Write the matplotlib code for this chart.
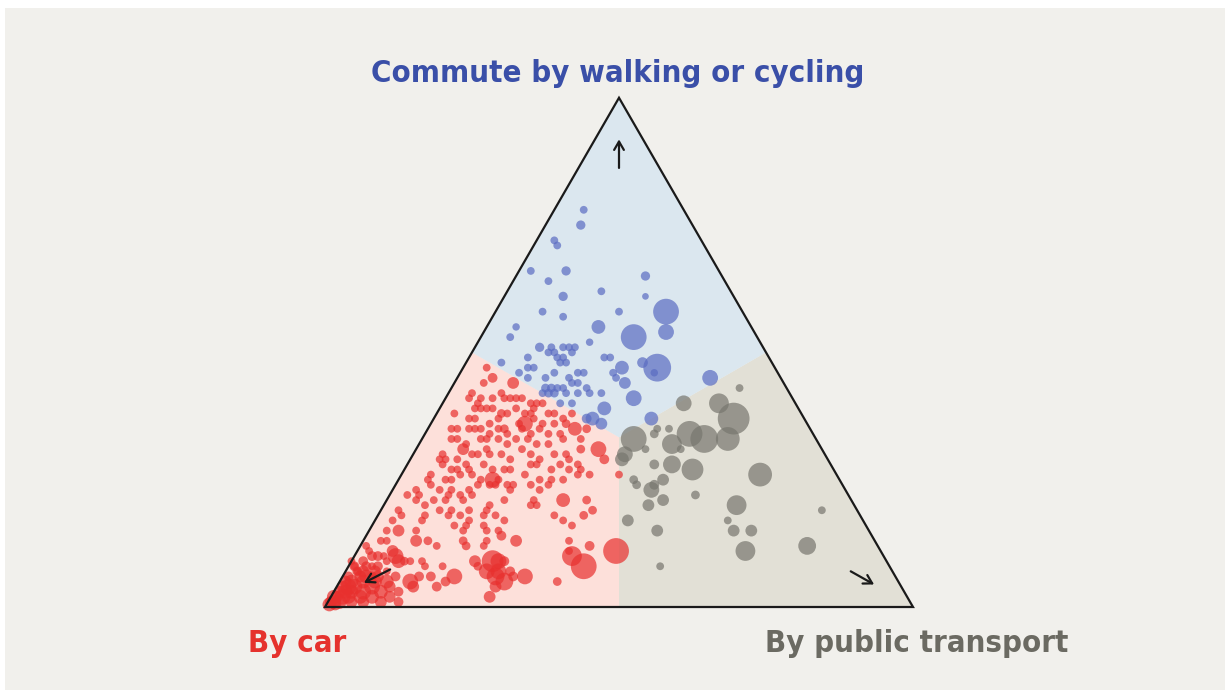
"""
Ternary scatter: how people commute (walk/cycle, car, public transport)
"""

import numpy as np
import matplotlib
matplotlib.use("Agg")
import matplotlib.pyplot as plt
from matplotlib.patches import Polygon, Rectangle
from matplotlib import font_manager

# each point: (walk/cycle %, public transport %, population weight); car = 100 - walk - transit
walk_points = [
    (78, 5, 9), (75, 6, 14), (72, 3, 9), (71, 4, 9), (66, 2, 9), (66, 8, 14), (64, 6, 9),
    (65, 22, 14), (62, 16, 9), (61, 10, 14), (61, 24, 6), (58, 29, 144), (58, 8, 9),
    (57, 12, 9), (58, 21, 9), (55, 5, 8), (53, 5, 9), (55, 19, 36), (53, 26, 144),
    (54, 31, 49), (52, 19, 8), (51, 11, 14), (51, 13, 9), (50, 14, 9), (51, 15, 9),
    (51, 16, 9), (51, 17, 9), (49, 15, 9), (49, 16, 9), (50, 17, 9), (48, 17, 9),
    (50, 13, 9), (48, 16, 9), (49, 10, 9), (48, 6, 9), (49, 23, 9), (49, 24, 9),
    (47, 27, 36), (48, 30, 20), (47, 33, 169), (46, 33, 8), (45, 43, 49), (47, 11, 9),
    (47, 12, 9), (46, 10, 9), (45, 15, 9), (46, 16, 9), (46, 20, 9), (46, 21, 9),
    (46, 26, 9), (45, 27, 9), (44, 29, 25), (45, 12, 9), (45, 19, 9), (44, 20, 9),
    (44, 21, 9), (42, 22, 9), (43, 16, 12), (42, 17, 12), (43, 17, 12), (42, 18, 12),
    (42, 16, 9), (43, 18, 9), (43, 19, 9), (42, 20, 9), (43, 23, 9), (42, 24, 9),
    (42, 26, 9), (41, 32, 49), (40, 22, 9), (40, 20, 9), (39, 28, 36), (37, 27, 36),
    (37, 26, 16), (36, 29, 25),
]

transit_points = [
    (43, 49, 9), (40, 41, 49), (40, 47, 81), (37, 51, 225), (37, 37, 36), (33, 36, 144),
    (34, 39, 12), (35, 39, 9), (35, 41, 9), (32, 43, 81), (34, 45, 144), (33, 48, 169),
    (33, 52, 121), (31, 45, 9), (30, 36, 49), (29, 36, 36), (31, 39, 9), (28, 45, 64),
    (28, 42, 16), (27, 49, 100), (26, 61, 121), (25, 45, 25), (24, 44, 16), (25, 40, 12),
    (24, 41, 12), (26, 37, 9), (23, 44, 49), (22, 52, 12), (20, 45, 25), (21, 47, 25),
    (20, 60, 81), (19, 75, 9), (17, 43, 25), (17, 60, 9), (15, 62, 25), (15, 65, 25),
    (15, 49, 25), (11, 66, 81), (12, 76, 64), (8, 53, 9),
]

car_points = [
    (47, 4, 9), (45, 6, 16), (44, 10, 25), (44, 5, 9), (42, 4, 9),
    (41, 4, 9), (40, 6, 9), (41, 6, 9), (41, 8, 9), (42, 9, 9), (41, 10, 9), (41, 11, 9),
    (41, 12, 9), (41, 13, 9), (40, 15, 9), (40, 16, 9), (40, 17, 9),
    (39, 6, 9), (39, 7, 9), (39, 8, 9), (39, 9, 9), (38, 11, 12), (38, 12, 9), (39, 13, 9),
    (38, 15, 9), (38, 16, 9), (39, 16, 9), (38, 19, 9), (38, 20, 9), (37, 22, 9), (38, 23, 9),
    (38, 3, 9), (37, 6, 9), (37, 7, 9), (36, 10, 9), (37, 11, 9), (35, 13, 12), (36, 15, 9),
    (36, 16, 49), (37, 17, 9), (36, 19, 9), (36, 21, 9), (36, 23, 12), (35, 25, 36),
    (35, 4, 9), (35, 5, 9), (35, 7, 9), (35, 8, 9), (35, 9, 9), (34, 11, 9), (35, 12, 9),
    (34, 14, 9), (35, 16, 9), (34, 18, 9), (35, 19, 9), (34, 21, 9), (34, 23, 9), (35, 27, 12),
    (33, 5, 9), (33, 6, 9), (32, 8, 9), (33, 10, 9), (33, 11, 9), (33, 13, 9), (32, 15, 9),
    (33, 16, 9), (33, 18, 9), (32, 20, 9), (32, 22, 9), (33, 24, 9), (33, 27, 9), (31, 28, 12),
    (31, 31, 49),
    (30, 5, 9), (29, 6, 9), (29, 8, 9), (31, 8, 25), (30, 10, 9), (30, 11, 9), (31, 12, 9),
    (30, 13, 9), (30, 15, 9), (29, 17, 9), (31, 18, 9), (30, 20, 9), (29, 22, 9), (30, 24, 9),
    (30, 26, 9), (29, 27, 9), (28, 29, 9),
    (29, 5, 9), (28, 6, 9), (27, 8, 9), (27, 9, 9), (28, 10, 9), (27, 11, 9), (28, 13, 9),
    (27, 15, 9), (27, 17, 9), (27, 18, 9), (28, 21, 9), (28, 22, 9), (27, 25, 9), (28, 26, 9),
    (27, 28, 9), (27, 30, 9), (26, 32, 9), (29, 33, 16),
    (25, 5, 9), (26, 5, 9), (25, 8, 9), (25, 9, 9), (26, 10, 9), (26, 12, 9), (25, 14, 9),
    (25, 16, 49), (25, 17, 9), (24, 19, 9), (26, 21, 9), (25, 24, 9), (25, 26, 9), (25, 28, 9),
    (26, 30, 9),
    (23, 4, 9), (22, 5, 9), (24, 6, 9), (23, 8, 9), (22, 10, 9), (23, 10, 9), (22, 12, 9),
    (23, 13, 9), (24, 14, 9), (24, 16, 9), (24, 17, 9), (23, 20, 9), (24, 20, 9), (24, 23, 9),
    (23, 25, 9), (24, 26, 9),
    (22, 3, 9), (21, 5, 9), (20, 7, 9), (21, 8, 9), (21, 10, 9), (21, 13, 9), (22, 14, 9),
    (20, 18, 9), (21, 20, 9), (21, 25, 9), (20, 26, 9), (21, 30, 36), (21, 34, 12), (19, 36, 12),
    (19, 3, 9), (17, 3, 9), (18, 4, 9), (17, 8, 9), (18, 8, 9), (19, 10, 9), (18, 12, 9),
    (19, 12, 9), (18, 14, 9), (19, 15, 9), (17, 16, 9), (18, 18, 9), (19, 18, 9), (18, 20, 9),
    (17, 22, 9), (20, 25, 9), (18, 30, 9), (17, 32, 9), (16, 34, 9), (18, 35, 12),
    (15, 3, 9), (15, 5, 25), (15, 8, 9), (16, 14, 9), (15, 16, 9), (16, 16, 9), (16, 19, 9),
    (15, 20, 9), (15, 22, 9),
    (13, 3, 9), (13, 4, 9), (13, 9, 25), (13, 11, 12), (12, 13, 9), (13, 17, 12), (12, 18, 12),
    (12, 21, 9), (13, 21, 9), (14, 23, 16), (13, 26, 25), (13, 35, 9), (11, 36, 9),
    (12, 39, 16), (11, 44, 144), (10, 37, 81), (8, 40, 144),
    (12, 1, 9), (11, 2, 9), (10, 5, 9), (10, 7, 49), (9, 9, 12), (9, 10, 9), (9, 12, 9),
    (8, 13, 9), (8, 16, 9), (6, 19, 49), (9, 21, 25), (8, 22, 12), (9, 24, 100), (9, 25, 49),
    (9, 26, 16), (7, 28, 16), (6, 31, 49), (6, 29, 16), (5, 37, 12),
    (9, 0, 9), (8, 1, 9), (7, 2, 9), (8, 4, 9), (9, 6, 9), (6, 5, 16), (7, 7, 9), (6, 9, 16),
    (5, 12, 49), (4, 13, 25), (6, 13, 16), (6, 15, 16), (4, 17, 16), (5, 18, 16),
    (7, 24, 49), (6, 26, 64), (7, 26, 49), (5, 28, 64), (4, 27, 25), (2, 27, 25),
    (10, 4, 16), (11, 6, 25), (9, 8, 36),
    # dense cluster near the car corner
    (1, 1, 36), (2, 1, 25), (1, 2, 36), (3, 1, 25), (2, 2, 49), (4, 1, 25), (3, 2, 36),
    (2, 3, 36), (5, 1, 25), (4, 2, 49), (3, 3, 36), (1, 4, 25), (6, 1, 16), (5, 2, 36),
    (4, 3, 49), (2, 5, 36), (6, 3, 25), (7, 2, 16), (5, 4, 36), (3, 5, 49), (1, 6, 25),
    (8, 1, 16), (7, 3, 25), (6, 4, 36), (4, 6, 49), (2, 7, 36), (8, 3, 16), (7, 5, 25),
    (5, 6, 36), (9, 2, 16), (3, 8, 36), (6, 6, 25), (8, 5, 16), (4, 9, 25), (10, 3, 16),
    (1, 9, 25), (5, 8, 36), (2, 10, 25), (3, 11, 16), (1, 12, 16), (0.5, 0.5, 36),
    (1, 0.5, 25), (0.5, 1.5, 25), (2, 0.5, 36),
]

mode_labels = ["Commute by walking or cycling", "By car", "By public transport"]

BG = "#f1f0ec"
region_fill = {"walk": "#dbe7ef", "car": "#fde0da", "transit": "#e2e0d6"}
dot_color = {"walk": "#5a6bc2", "car": "#e8302e", "transit": "#77766e"}
label_color = {"walk": "#3a4fa8", "car": "#e5322d", "transit": "#6b6a62"}

H = np.sqrt(3) / 2


def to_xy(walk, transit):
    """ternary shares (percent) -> cartesian, car corner at (0,0)"""
    w = np.asarray(walk, float) / 100
    t = np.asarray(transit, float) / 100
    return t + w / 2, w * H


fig = plt.figure(figsize=(12.3, 6.95), dpi=100, facecolor="white")
ax = fig.add_axes([0, 0, 1, 1])
# 1 triangle side = 588 px, car corner at pixel (325, 607)
ax.set_xlim(-325 / 588, (1230 - 325) / 588)
ax.set_ylim(-(695 - 607) / 588, 607 / 588)
ax.axis("off")

ax.add_patch(Rectangle((-320 / 588, -(690 - 607) / 588), 1220 / 588, 682 / 588,
                       facecolor=BG, edgecolor="none", zorder=0))

# regions: each corner up to the centroid and edge midpoints
car_c, tr_c, wk_c = (0, 0), (1, 0), (0.5, H)
cen = (0.5, H / 3)
mid_bottom, mid_left, mid_right = (0.5, 0), (0.25, H / 2), (0.75, H / 2)
ax.add_patch(Polygon([car_c, mid_bottom, cen, mid_left], facecolor=region_fill["car"],
                     edgecolor="none", zorder=1))
ax.add_patch(Polygon([tr_c, mid_right, cen, mid_bottom], facecolor=region_fill["transit"],
                     edgecolor="none", zorder=1))
ax.add_patch(Polygon([wk_c, mid_left, cen, mid_right], facecolor=region_fill["walk"],
                     edgecolor="none", zorder=1))

# dots, coloured by the dominant mode; radius grows with sqrt(population)
for pts in (car_points, walk_points, transit_points):
    w, t, pop = (np.array(c, float) for c in zip(*pts))
    c = 100 - w - t
    shares = np.vstack([w, c, t])
    keys = np.array(["walk", "car", "transit"])[shares.argmax(axis=0)]
    x, y = to_xy(w, t)
    ax.scatter(x, y, s=2.07 * (np.sqrt(pop) + 0.9) ** 2, c=[dot_color[k] for k in keys],
               alpha=0.7, edgecolors="none", zorder=3)

# triangle outline
ax.add_patch(Polygon([car_c, tr_c, wk_c], closed=True, facecolor="none",
                     edgecolor="#1a1a1a", lw=1.6, zorder=4, joinstyle="miter"))

# direction arrows
arrow = dict(arrowstyle="->,head_length=0.6,head_width=0.35", color="#1a1a1a", lw=1.6)
ax.annotate("", xy=(0.5, 0.800), xytext=(0.5, 0.742), arrowprops=arrow, zorder=5)
ax.annotate("", xy=(0.062, 0.039), xytext=(0.115, 0.066), arrowprops=arrow, zorder=5)
ax.annotate("", xy=(0.938, 0.036), xytext=(0.890, 0.063), arrowprops=arrow, zorder=5)

fp = font_manager.FontProperties(family="DejaVu Sans", weight="bold", stretch="condensed",
                                 size=22.3)
ax.text(0.497, 0.893, mode_labels[0], ha="center", va="baseline",
        color=label_color["walk"], fontproperties=fp)
ax.text(-0.131, -0.077, mode_labels[1], ha="left", va="baseline",
        color=label_color["car"], fontproperties=fp)
ax.text(1.265, -0.077, mode_labels[2], ha="right", va="baseline",
        color=label_color["transit"], fontproperties=fp)

fig.savefig("out.png", dpi=100, facecolor="white")
